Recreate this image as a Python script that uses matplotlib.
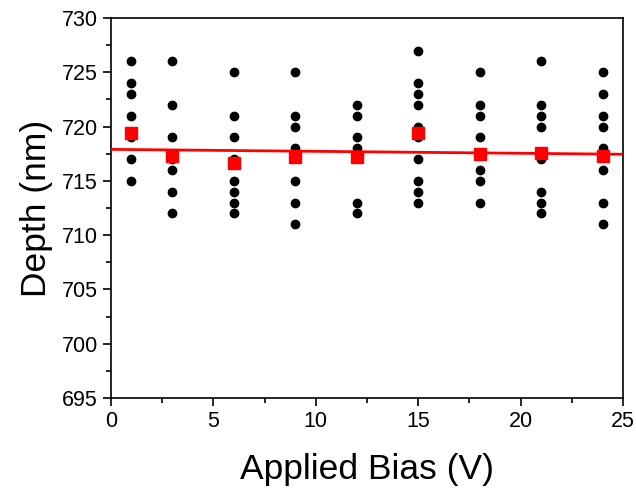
import numpy as np
import matplotlib.pyplot as plt
from matplotlib.ticker import MultipleLocator

plt.rcParams['font.family'] = ['Liberation Sans', 'DejaVu Sans']

# raw depth measurements per bias
bias = [1, 3, 6, 9, 12, 15, 18, 21, 24]
depths = [
    [726, 724, 723, 721, 719, 717, 715],
    [726, 722, 719, 717, 716, 714, 712],
    [725, 721, 719, 717, 715, 714, 713, 712],
    [725, 721, 720, 718, 715, 713, 711],
    [722, 721, 719, 718, 713, 712],
    [727, 724, 723, 722, 720, 719, 717, 715, 714, 713],
    [725, 722, 721, 719, 716, 715, 713],
    [726, 722, 721, 720, 717, 714, 713, 712],
    [725, 723, 721, 720, 718, 716, 713, 711],
]
mean_depth = [719.4, 717.3, 716.6, 717.2, 717.2, 719.4, 717.5, 717.6, 717.3]
fit_intercept = 717.9
fit_slope = -0.018

fig = plt.figure(figsize=(6.36, 4.94), dpi=100)
ax = fig.add_axes([111/636, 1 - 398/494, 512/636, 380/494])

for b, d in zip(bias, depths):
    ax.plot([b] * len(d), d, 'o', color='black', markersize=6, zorder=2)

xf = np.array([0, 25])
ax.plot(xf, fit_intercept + fit_slope * xf, color='red', lw=2, zorder=3)
ax.plot(bias, mean_depth, 's', color='red', markersize=8, zorder=4)

ax.set_xlim(0, 25)
ax.set_ylim(695, 730)
ax.xaxis.set_major_locator(MultipleLocator(5))
ax.xaxis.set_minor_locator(MultipleLocator(2.5))
ax.yaxis.set_major_locator(MultipleLocator(5))
ax.yaxis.set_minor_locator(MultipleLocator(2.5))
ax.tick_params(which='major', direction='out', length=6, width=1.2, labelsize=15.5)
ax.tick_params(which='minor', direction='out', length=3.5, width=1.2)
for s in ax.spines.values():
    s.set_linewidth(1.2)

ax.set_xlabel('Applied Bias (V)', fontsize=25.5, labelpad=15)
ax.set_ylabel('Depth (nm)', fontsize=25.5, labelpad=6)

fig.savefig('out.png', dpi=100)
